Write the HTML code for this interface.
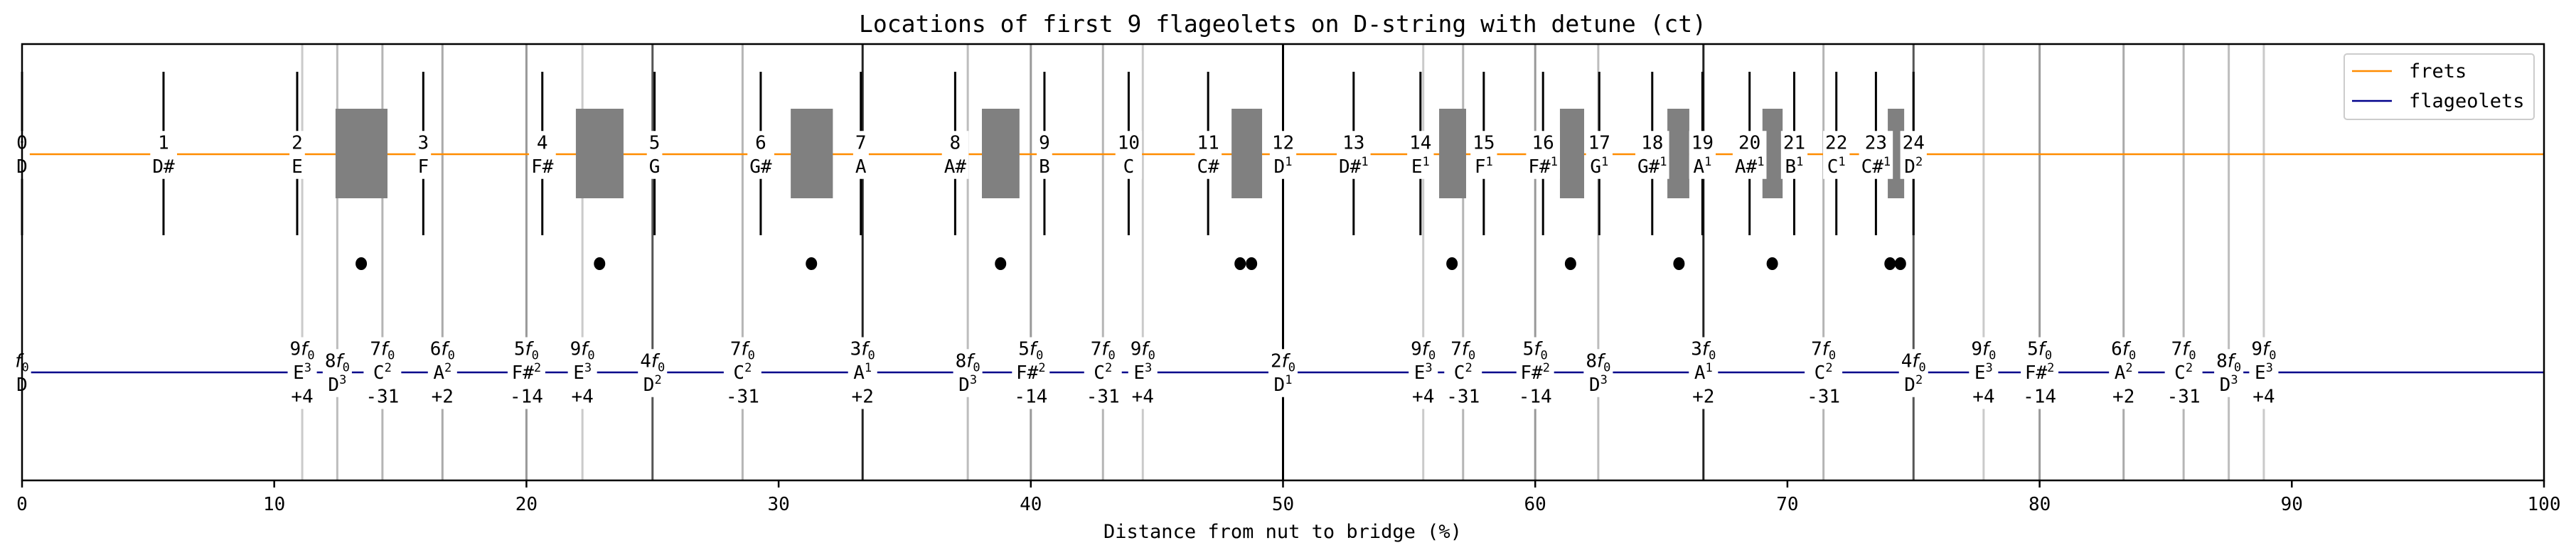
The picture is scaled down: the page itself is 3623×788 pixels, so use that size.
<!DOCTYPE html>
<html><head><meta charset="utf-8">
<style>
html,body{margin:0;padding:0;background:#fff;}
svg text{font-family:"DejaVu Sans Mono","Liberation Mono",monospace;fill:#000;}
</style></head>
<body>
<svg id="chart" xmlns="http://www.w3.org/2000/svg" width="3623" height="783" viewBox="0 0 3623 783">
<rect width="3623" height="783" fill="#fff"/>
<text x="1804" y="45" font-size="33" text-anchor="middle">Locations of first 9 flageolets on D-string with detune (ct)</text>
<g id="plot"></g>
</svg>
<script>
// ---- data ----
const fretNumbers = [0,1,2,3,4,5,6,7,8,9,10,11,12,13,14,15,16,17,18,19,20,21,22,23,24];
const fretPos = [0,5.61,10.91,15.91,20.63,25.08,29.29,33.26,37.0,40.54,43.88,47.03,50,52.80,55.45,57.96,60.31,62.54,64.64,66.63,68.50,70.27,71.94,73.51,75.0];
const fretNotes = ["D","D#","E","F","F#","G","G#","A","A#","B","C","C#","D","D#","E","F","F#","G","G#","A","A#","B","C","C#","D"];
const fretOct = ["","","","","","","","","","","","","1","1","1","1","1","1","1","1","1","1","1","1","2"];
const harmPos = [11.11,12.5,14.29,16.67,20,22.22,25,28.57,33.33,37.5,40,42.86,44.44,50,55.56,57.14,60,62.5,66.67,71.43,75,77.78,80,83.33,85.71,87.5,88.89];
const harmK = [9,8,7,6,5,9,4,7,3,8,5,7,9,2,9,7,5,8,3,7,4,9,5,6,7,8,9];
const kNote = {2:"D",3:"A",4:"D",5:"F#",6:"A",7:"C",8:"D",9:"E"};
const kOct = {2:"1",3:"1",4:"2",5:"2",6:"2",7:"2",8:"3",9:"3"};
const kCents = {2:"",3:"+2",4:"",5:"-14",6:"+2",7:"-31",8:"",9:"+4"};
const kColor = {2:"#000",3:"#222",4:"#555",5:"#999",6:"#aaa",7:"#b5b5b5",8:"#bdbdbd",9:"#cacaca"};
const boxLeft = [12.43,21.96,30.48,38.06,47.96,56.19,60.98,65.24,69.01,73.98];
const boxRight = [14.49,23.85,32.15,39.55,49.17,57.26,61.94,66.11,69.81,74.63];
const dotPos = [13.45,22.9,31.3,38.8,48.3,48.75,56.7,61.4,65.7,69.4,74.07,74.48];
const xTicks = [0,10,20,30,40,50,60,70,80,90,100];

// ---- layout ----
const L=31,R=3578,T=62,B=676,yFret=217,yFlag=524,yDot=371;
const x = p => L + p*(R-L)/100;
const NS="http://www.w3.org/2000/svg";
const plot=document.getElementById('plot');
function mk(tag,attrs,parent){const e=document.createElementNS(NS,tag);for(const k in attrs)e.setAttribute(k,attrs[k]);(parent||plot).appendChild(e);return e;}

// harmonic vertical lines
const gLines=mk('g',{});
harmPos.forEach((p,i)=>{
  const l=mk('line',{x1:x(p),x2:x(p),y1:T,y2:B,stroke:kColor[harmK[i]],'stroke-width':3},gLines);
  
  
});
// orange frets line & blue flageolets line
const fl=mk('line',{x1:L,x2:R,y1:yFret,y2:yFret,stroke:'#ff8c00','stroke-width':2.5});


const bl=mk('line',{x1:L,x2:R,y1:yFlag,y2:yFlag,stroke:'#00008b','stroke-width':2.5});


// fret segments
fretPos.forEach((p,i)=>{
  const s=mk('line',{x1:x(p),x2:x(p),y1:101,y2:331,stroke:'#000','stroke-width':3});
  
  
});
// boxes
boxLeft.forEach((a,i)=>{
  const r=mk('rect',{x:x(a),y:153,width:x(boxRight[i])-x(a),height:126,fill:'#808080'});
  
  
});
// dots
dotPos.forEach(p=>{
  const c=mk('ellipse',{cx:x(p),cy:yDot,rx:8,ry:9,fill:'#000'});
  
  
});
// label helper: rows centered on yc
function label(cx,yc,rows,name){
  const g=mk('g',{});
  
  
  const bg=mk('rect',{fill:'#fff'},g);
  const sp=33.5, n=rows.length;
  rows.forEach((r,i)=>{
    const y=yc+(i-(n-1)/2)*sp+9;
    const t=mk('text',{x:cx,y:y,'font-size':26,'text-anchor':'middle'},g);
    r.forEach(seg=>{
      const ts=mk('tspan',{},t);
      ts.textContent=seg.t;
      if(seg.sup){ts.setAttribute('font-size','17');ts.setAttribute('dy','-10');}
      if(seg.sub){ts.setAttribute('font-size','17');ts.setAttribute('dy','6');}
      if(seg.it){ts.setAttribute('font-style','italic');ts.setAttribute('font-family','DejaVu Sans, sans-serif');}
      if(seg.reset){ts.setAttribute('dy',seg.reset);}
    });
  });
  const bb=g.getBBox();
  bg.setAttribute('x',bb.x-3);bg.setAttribute('y',bb.y-2);
  bg.setAttribute('width',bb.width+6);bg.setAttribute('height',bb.height+4);
}
// fret labels
fretPos.forEach((p,i)=>{
  const note=[{t:fretNotes[i]}];
  if(fretOct[i])note.push({t:fretOct[i],sup:true});
  label(x(p),yFret,[[{t:String(fretNumbers[i])}],note],'fret-label');
});
// f0 label
label(x(0),yFlag,[[{t:'f',it:true},{t:'0',sub:true}],[{t:'D'}]],'flageolet-label');
// harmonic labels
harmPos.forEach((p,i)=>{
  const k=harmK[i];
  const rows=[[{t:String(k)},{t:'f',it:true},{t:'0',sub:true}],[{t:kNote[k]},{t:kOct[k],sup:true}]];
  if(kCents[k])rows.push([{t:kCents[k]}]);
  label(x(p),yFlag,rows,'flageolet-label');
});
// axes frame
const fr=mk('rect',{x:L,y:T,width:R-L,height:B-T,fill:'none',stroke:'#000','stroke-width':2.5});


xTicks.forEach(v=>{
  const tk=mk('line',{x1:x(v),x2:x(v),y1:B,y2:B+10,stroke:'#000','stroke-width':2.5});
  
  
  const tl=mk('text',{x:x(v),y:718,'font-size':26,'text-anchor':'middle'});
  tl.textContent=v;
  
  
});
const xl=mk('text',{x:1804,y:757,'font-size':27,'text-anchor':'middle'});
xl.textContent='Distance from nut to bridge (%)';


// legend
const lg=mk('g',{});


mk('rect',{x:3297,y:76,width:267,height:92,rx:4,fill:'#fff',stroke:'#ccc','stroke-width':2},lg);
const e1=mk('g',{},lg);


mk('line',{x1:3308,x2:3364,y1:100,y2:100,stroke:'#ff8c00','stroke-width':2.5},e1);
const t1=mk('text',{x:3388,y:109,'font-size':27},e1);t1.textContent='frets';
const e2=mk('g',{},lg);


mk('line',{x1:3308,x2:3364,y1:142,y2:142,stroke:'#00008b','stroke-width':2.5},e2);
const t2=mk('text',{x:3388,y:151,'font-size':27},e2);t2.textContent='flageolets';
</script>
</body></html>
